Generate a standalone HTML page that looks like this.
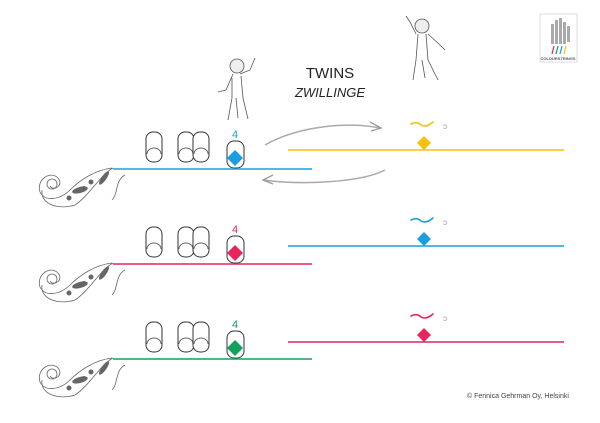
<!DOCTYPE html>
<html><head><meta charset="utf-8"><style>
body{margin:0;background:#fff}
svg{display:block}
text{font-family:"Liberation Sans",sans-serif}
</style></head><body>
<svg width="600" height="423" viewBox="0 0 600 423" xmlns="http://www.w3.org/2000/svg">
<defs>
<g id="fingers" fill="#fff" stroke="#333" stroke-width="1">
  <rect x="146" y="132" width="16" height="30" rx="7"/>
  <path d="M147 154 a7 6 0 0 1 14 0" fill="none" stroke="#666"/>
  <rect x="178" y="132" width="16" height="30" rx="7"/>
  <path d="M179 154 a7 6 0 0 1 14 0" fill="none" stroke="#666"/>
  <rect x="193" y="132" width="16" height="30" rx="7"/>
  <path d="M194 154 a7 6 0 0 1 14 0" fill="none" stroke="#666"/>
  <rect x="227" y="141" width="17" height="27" rx="7"/>
</g>
<g id="scroll" fill="none" stroke="#666" stroke-width="0.8">
  <path d="M112 168 C95 170 80 180 70 190 C60 200 45 202 40 192 C36 180 50 170 58 178 C64 185 54 192 50 186"/>
  <circle cx="52" cy="184" r="5"/>
  <path d="M113 168 C100 175 90 195 75 205 C60 210 40 205 42 190"/>
  <path d="M125 175 C115 180 118 195 112 200"/>
  <g fill="#666" stroke="none">
    <ellipse cx="80" cy="190" rx="8" ry="3" transform="rotate(-15 80 190)"/>
    <circle cx="91" cy="182" r="2.5"/><circle cx="69" cy="198" r="2.5"/>
    <ellipse cx="104" cy="178" rx="2.5" ry="8" transform="rotate(35 104 178)"/>
    <circle cx="84" cy="188" r="2"/>
  </g>
</g>
<g id="wave">
  <path d="M411 124 q6 -3 10 1 q5 3 12 -3" fill="none" stroke-width="1.6" stroke-linecap="round"/>
  <text x="443" y="129" font-size="8" fill="#999" stroke="none">ɔ</text>
</g>
</defs>

<use href="#fingers"/>
<use href="#scroll"/>
<line x1="113" y1="169" x2="312" y2="169" stroke="#1a9ee0" stroke-width="1.6"/>
<text x="235" y="138" font-size="11" fill="#1a9ee0" text-anchor="middle">4</text>
<path d="M235 150 l8 8 -8 8 -8 -8z" fill="#1a9ee0"/>
<line x1="288" y1="150" x2="564" y2="150" stroke="#f4c20d" stroke-width="1.6"/>
<path d="M424 136 l7 7 -7 7 -7 -7z" fill="#f4c20d"/>
<g stroke="#f4c20d" fill="none"><use href="#wave"/></g>

<g transform="translate(0,95)"><use href="#fingers"/><use href="#scroll"/></g>
<line x1="113" y1="264" x2="312" y2="264" stroke="#e8245e" stroke-width="1.6"/>
<text x="235" y="233" font-size="11" fill="#e8245e" text-anchor="middle">4</text>
<path d="M235 245 l8 8 -8 8 -8 -8z" fill="#e8245e"/>
<line x1="288" y1="246" x2="564" y2="246" stroke="#1a9ee0" stroke-width="1.6"/>
<path d="M424 232 l7 7 -7 7 -7 -7z" fill="#1a9ee0"/>
<g transform="translate(0,96)" stroke="#1a9ee0" fill="none"><use href="#wave"/></g>

<g transform="translate(0,190)"><use href="#fingers"/><use href="#scroll"/></g>
<line x1="113" y1="359" x2="312" y2="359" stroke="#13a05a" stroke-width="1.6"/>
<text x="235" y="328" font-size="11" fill="#13a05a" text-anchor="middle">4</text>
<path d="M235 340 l8 8 -8 8 -8 -8z" fill="#13a05a"/>
<line x1="288" y1="342" x2="564" y2="342" stroke="#e8245e" stroke-width="1.6"/>
<path d="M424 328 l7 7 -7 7 -7 -7z" fill="#e8245e"/>
<g transform="translate(0,192)" stroke="#e8245e" fill="none"><use href="#wave"/></g>

<path d="M265 145 C300 125 350 122 380 128" fill="none" stroke="#aaa" stroke-width="1.5"/>
<path d="M370 122 l11 6 -10 3" fill="none" stroke="#999" stroke-width="1.3"/>
<path d="M385 170 C360 183 300 185 263 180" fill="none" stroke="#aaa" stroke-width="1.5"/>
<path d="M273 175 l-10 5 10 4" fill="none" stroke="#999" stroke-width="1.3"/>

<text x="330" y="78" font-size="15" fill="#222" text-anchor="middle">TWINS</text>
<text x="330" y="97" font-size="13" font-style="italic" fill="#222" text-anchor="middle">ZWILLINGE</text>

<g fill="none" stroke="#555" stroke-width="0.8">
  <circle cx="237" cy="66" r="7" fill="#eee"/>
  <path d="M233 74 L226 90 L218 92 M240 74 L250 70 L255 58 M232 78 L232 98 L228 120 M241 76 L243 98 L248 119 M236 98 L238 118"/>
  <circle cx="422" cy="26" r="7" fill="#eee"/>
  <path d="M416 34 L410 22 L406 16 M428 34 L440 45 L445 50 M418 34 L416 60 L413 80 M426 34 L428 60 L438 80 M422 60 L425 78"/>
</g>
<rect x="540" y="14" width="37" height="48" fill="#fff" stroke="#ddd"/>
<g fill="#aaa"><rect x="551" y="24" width="3" height="20"/><rect x="555" y="20" width="3" height="24"/><rect x="559" y="18" width="3" height="26"/><rect x="563" y="22" width="3" height="22"/><rect x="567" y="26" width="3" height="16"/></g>
<g stroke-width="1.2"><line x1="552" y1="54" x2="554" y2="46" stroke="#e8245e"/><line x1="556" y1="54" x2="558" y2="46" stroke="#13a05a"/><line x1="560" y1="54" x2="562" y2="46" stroke="#1a9ee0"/><line x1="564" y1="54" x2="566" y2="46" stroke="#f4c20d"/></g>
<text x="558" y="60" font-size="4" fill="#555" text-anchor="middle" font-weight="bold">COLOURSTRINGS</text>

<text x="467" y="398" font-size="7" fill="#444">© Fennica Gehrman Oy, Helsinki</text>
</svg>
</body></html>
